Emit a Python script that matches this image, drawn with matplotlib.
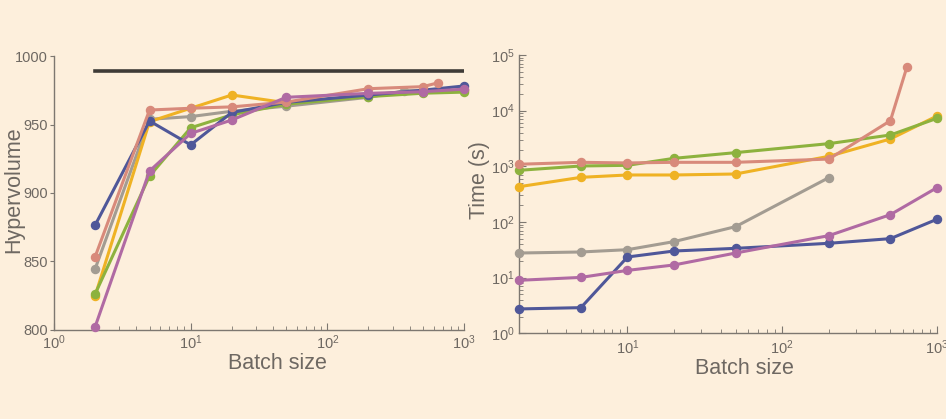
import matplotlib
matplotlib.use("Agg")
import matplotlib.pyplot as plt
import numpy as np
from matplotlib.ticker import LogLocator, NullFormatter, FixedLocator

plt.rcParams['font.family'] = ['Liberation Sans', 'DejaVu Sans']
plt.rcParams['mathtext.fontset'] = 'custom'
plt.rcParams['mathtext.rm'] = 'Liberation Sans'

BG = '#fdefdc'
AXC = '#7d7770'
TXT = '#6e6862'

# ---- data ----
batch = [2, 5, 10, 20, 50, 200, 500, 1000]
batch_salmon = [2, 5, 10, 20, 50, 200, 500, 640]
batch_gray_hv = [2, 5, 10, 20, 50, 200, 365, 1000]
batch_gray_t = [2, 5, 10, 20, 50, 200]

hv_ref = 989
hv_blue = [876.5, 952.7, 935.2, 958.9, 966.3, 971.7, 975.2, 978.3]
hv_salmon = [853.4, 960.7, 962.0, 963.0, 966.5, 976.3, 977.8, 980.5]
hv_gray = [844.5, 953.9, 955.9, 959.8, 963.5, 970.0, 974.8, 975.0]
hv_yellow = [824.8, 952.2, 962.0, 971.7, 966.0, 971.0, 974.0, 975.3]
hv_green = [826.2, 912.4, 947.7, 957.2, 965.0, 970.5, 973.0, 973.8]
hv_purple = [802.2, 916.1, 943.6, 953.4, 970.0, 972.9, 974.1, 976.0]

t_blue = [2.74, 2.89, 23.5, 30.1, 33.6, 41.4, 50.2, 112]
t_salmon = [1090, 1180, 1150, 1180, 1180, 1350, 6600, 61700]
t_gray = [27.7, 28.9, 31.8, 44.4, 82.5, 626]
t_yellow = [431, 634, 699, 699, 728, 1513, 3100, 8020]
t_green = [848, 1014, 1042, 1392, 1762, 2555, 3655, 7280]
t_purple = [8.96, 10.1, 13.5, 16.9, 27.7, 56.8, 135.5, 414]

colors = {
    'blue': '#4f5799',
    'salmon': '#d88a7b',
    'gray': '#a39c92',
    'yellow': '#efb224',
    'green': '#8db23e',
    'purple': '#b06aa3',
}

fig = plt.figure(figsize=(9.46, 4.19), dpi=100, facecolor=BG)

W, H = 946, 419


def make_ax(x0, x1, y0, y1):
    ax = fig.add_axes([x0 / W, 1 - y1 / H, (x1 - x0) / W, (y1 - y0) / H])
    ax.set_facecolor(BG)
    for s in ('top', 'right'):
        ax.spines[s].set_visible(False)
    for s in ('left', 'bottom'):
        ax.spines[s].set_color(AXC)
        ax.spines[s].set_linewidth(1.0)
    ax.tick_params(colors=AXC, labelcolor=TXT, labelsize=10.5, width=0.8)
    return ax


def plot_series(ax, x, y, c):
    ax.plot(x, y, '-o', color=c, lw=2.2, ms=5.8, mec=c, clip_on=False, zorder=3)


# ---- left: hypervolume ----
ax1 = make_ax(54, 464, 56.3, 329.7)
ax1.set_xscale('log')
ax1.set_xlim(1, 1000)
ax1.set_ylim(800, 1000)
ax1.plot([2, 1000], [hv_ref, hv_ref], color='#3f3b37', lw=2.6, zorder=2)
plot_series(ax1, batch_gray_hv, hv_gray, colors['gray'])
plot_series(ax1, batch, hv_yellow, colors['yellow'])
plot_series(ax1, batch, hv_green, colors['green'])
plot_series(ax1, batch, hv_blue, colors['blue'])
plot_series(ax1, batch_salmon, hv_salmon, colors['salmon'])
plot_series(ax1, batch, hv_purple, colors['purple'])
ax1.yaxis.set_major_locator(FixedLocator([800, 850, 900, 950, 1000]))
ax1.xaxis.set_major_locator(LogLocator(base=10, numticks=10))
ax1.xaxis.set_minor_locator(LogLocator(base=10, subs=np.arange(2, 10), numticks=10))
ax1.xaxis.set_minor_formatter(NullFormatter())
ax1.tick_params(axis='y', direction='out', length=3, pad=1.5)
ax1.tick_params(axis='x', which='major', direction='in', length=5, pad=3)
ax1.tick_params(axis='x', which='minor', direction='in', length=3, color=AXC)
ax1.set_xlabel('Batch size', fontsize=15.5, color=TXT)
ax1.set_ylabel('Hypervolume', fontsize=15.5, color=TXT)
ax1.xaxis.set_label_coords(0.544, -0.085)
ax1.yaxis.set_label_coords(-0.073, 0.512)

# ---- right: time ----
ax2 = make_ax(519.3, 937, 55, 333.3)
ax2.set_xscale('log')
ax2.set_yscale('log')
ax2.set_xlim(2, 1000)
ax2.set_ylim(1, 1e5)
plot_series(ax2, batch_gray_t, t_gray, colors['gray'])
plot_series(ax2, batch, t_yellow, colors['yellow'])
plot_series(ax2, batch, t_green, colors['green'])
plot_series(ax2, batch, t_blue, colors['blue'])
plot_series(ax2, batch_salmon, t_salmon, colors['salmon'])
plot_series(ax2, batch, t_purple, colors['purple'])
ax2.xaxis.set_major_locator(LogLocator(base=10, numticks=10))
ax2.xaxis.set_minor_locator(LogLocator(base=10, subs=np.arange(2, 10), numticks=10))
ax2.xaxis.set_minor_formatter(NullFormatter())
ax2.yaxis.set_major_locator(LogLocator(base=10, numticks=10))
ax2.yaxis.set_minor_locator(LogLocator(base=10, subs=np.arange(2, 10), numticks=10))
ax2.yaxis.set_minor_formatter(NullFormatter())
ax2.tick_params(axis='both', which='major', direction='in', length=5)
ax2.tick_params(axis='both', which='minor', direction='in', length=3, color=AXC)
ax2.set_xlabel('Batch size', fontsize=15.5, color=TXT)
ax2.set_ylabel('Time (s)', fontsize=15.5, color=TXT)
ax2.xaxis.set_label_coords(0.540, -0.089)
ax2.yaxis.set_label_coords(-0.070, 0.551)

fig.savefig('out.png', dpi=100, facecolor=BG)
